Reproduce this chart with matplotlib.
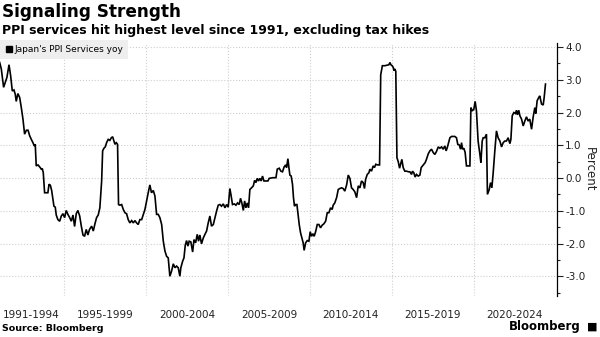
import matplotlib
matplotlib.use("Agg")
import matplotlib.pyplot as plt
from matplotlib.lines import Line2D
import numpy as np

plt.rcParams["font.family"] = ["DejaVu Sans"]
plt.rcParams["axes.unicode_minus"] = False

# Japan PPI services, yoy % as (decimal year, value)
ppi_1991_1996 = [
    (1991.08, 3.53), (1991.18, 3.33), (1991.32, 2.77), (1991.44, 2.95), (1991.52, 3.07),
    (1991.65, 3.46), (1991.75, 3.12), (1991.85, 2.66), (1991.95, 2.69), (1992.03, 2.56),
    (1992.09, 2.34), (1992.19, 2.58), (1992.30, 2.46), (1992.40, 2.15), (1992.50, 1.80),
    (1992.60, 1.34), (1992.71, 1.46), (1992.81, 1.46), (1992.91, 1.29), (1993.01, 1.18),
    (1993.11, 1.08), (1993.19, 0.98), (1993.25, 1.03), (1993.31, 0.37), (1993.42, 0.40),
    (1993.52, 0.34), (1993.62, 0.27), (1993.68, 0.29), (1993.74, 0.16), (1993.82, -0.45),
    (1993.92, -0.45), (1994.02, -0.45), (1994.09, -0.19), (1994.17, -0.22), (1994.25, -0.38),
    (1994.33, -0.65), (1994.39, -0.86), (1994.47, -0.89), (1994.53, -1.13), (1994.63, -1.27),
    (1994.74, -1.32), (1994.84, -1.16), (1994.94, -1.09), (1995.04, -1.21), (1995.14, -0.99),
    (1995.24, -1.11), (1995.35, -1.21), (1995.45, -1.32), (1995.55, -1.13), (1995.65, -1.48),
    (1995.75, -1.09), (1995.85, -0.99), (1995.96, -1.16), (1996.06, -1.47), (1996.16, -1.74),
    (1996.26, -1.78), (1996.36, -1.57), (1996.46, -1.74), (1996.56, -1.57),
]
ppi_1996_2001 = [
    (1996.69, -1.47), (1996.79, -1.62), (1996.89, -1.40), (1996.99, -1.21), (1997.09, -1.13),
    (1997.19, -0.91), (1997.30, -0.09), (1997.36, 0.83), (1997.44, 0.91), (1997.52, 0.95),
    (1997.60, 1.08), (1997.70, 1.18), (1997.80, 1.15), (1997.89, 1.23), (1997.97, 1.26),
    (1998.05, 1.13), (1998.11, 1.03), (1998.19, 1.08), (1998.27, 1.03), (1998.33, -0.81),
    (1998.41, -0.83), (1998.52, -0.81), (1998.62, -0.96), (1998.72, -1.06), (1998.82, -1.09),
    (1998.92, -1.27), (1999.02, -1.37), (1999.13, -1.30), (1999.23, -1.37), (1999.33, -1.30),
    (1999.43, -1.37), (1999.53, -1.42), (1999.63, -1.27), (1999.74, -1.27), (1999.84, -1.11),
    (1999.94, -0.96), (2000.04, -0.70), (2000.14, -0.45), (2000.24, -0.21), (2000.34, -0.45),
    (2000.45, -0.38), (2000.55, -0.55), (2000.65, -1.11), (2000.75, -1.11), (2000.85, -1.21),
    (2000.96, -1.42), (2001.06, -1.93), (2001.16, -2.23), (2001.26, -2.39), (2001.36, -2.44),
    (2001.46, -3.00), (2001.56, -2.85), (2001.67, -2.62), (2001.77, -2.74), (2001.87, -2.69),
    (2001.97, -2.74),
]
ppi_2002_2007 = [
    (2002.07, -3.00), (2002.13, -2.74), (2002.24, -2.54), (2002.32, -2.44), (2002.40, -2.05),
    (2002.48, -1.91), (2002.56, -2.08), (2002.64, -1.93), (2002.74, -1.95), (2002.85, -2.26),
    (2002.93, -1.88), (2003.03, -1.98), (2003.13, -1.72), (2003.21, -1.93), (2003.29, -1.74),
    (2003.39, -2.01), (2003.50, -1.83), (2003.60, -1.72), (2003.70, -1.62), (2003.80, -1.37),
    (2003.90, -1.16), (2004.00, -1.47), (2004.11, -1.42), (2004.21, -1.21), (2004.31, -1.01),
    (2004.41, -0.83), (2004.51, -0.81), (2004.61, -0.86), (2004.72, -0.79), (2004.82, -0.91),
    (2004.92, -0.81), (2005.02, -0.89), (2005.12, -0.32), (2005.20, -0.55), (2005.28, -0.81),
    (2005.39, -0.79), (2005.49, -0.83), (2005.59, -0.76), (2005.69, -0.81), (2005.77, -0.62),
    (2005.85, -0.76), (2005.94, -0.99), (2006.02, -0.70), (2006.10, -0.91), (2006.18, -0.76),
    (2006.26, -0.91), (2006.34, -0.35), (2006.44, -0.30), (2006.55, -0.24), (2006.63, -0.07),
    (2006.71, -0.14), (2006.79, -0.01), (2006.87, -0.09), (2006.95, -0.01), (2007.03, -0.09),
    (2007.11, 0.06), (2007.20, -0.09), (2007.32, -0.09), (2007.44, -0.09), (2007.52, -0.01),
    (2007.75, 0.01),
]
ppi_2007_2012 = [
    (2007.93, 0.01), (2008.01, 0.27), (2008.13, 0.30), (2008.23, 0.21), (2008.33, 0.19),
    (2008.43, 0.34), (2008.52, 0.40), (2008.58, 0.32), (2008.66, 0.59), (2008.72, 0.32),
    (2008.78, 0.09), (2008.86, 0.06), (2008.94, -0.19), (2009.00, -0.60), (2009.06, -0.86),
    (2009.13, -0.81), (2009.21, -0.81), (2009.29, -1.16), (2009.35, -1.42), (2009.43, -1.67),
    (2009.51, -1.83), (2009.59, -1.98), (2009.65, -2.21), (2009.74, -1.98), (2009.84, -1.91),
    (2009.94, -1.93), (2010.02, -1.64), (2010.10, -1.78), (2010.18, -1.70), (2010.26, -1.78),
    (2010.35, -1.64), (2010.45, -1.42), (2010.55, -1.42), (2010.65, -1.52), (2010.75, -1.44),
    (2010.85, -1.40), (2010.96, -1.32), (2011.06, -1.06), (2011.16, -1.06), (2011.26, -0.91),
    (2011.36, -0.96), (2011.42, -0.83), (2011.52, -0.76), (2011.63, -0.60), (2011.73, -0.35),
    (2011.83, -0.32), (2011.93, -0.30), (2012.03, -0.32), (2012.13, -0.40), (2012.24, -0.21),
    (2012.34, 0.09), (2012.44, -0.01), (2012.54, -0.30), (2012.64, -0.35), (2012.74, -0.42),
    (2012.85, -0.60), (2012.95, -0.24),
]
ppi_2013_2018 = [
    (2013.05, -0.30), (2013.15, -0.09), (2013.25, -0.14), (2013.33, -0.32), (2013.40, -0.04),
    (2013.50, 0.11), (2013.60, 0.16), (2013.66, 0.27), (2013.76, 0.21), (2013.86, 0.37),
    (2013.94, 0.32), (2014.02, 0.42), (2014.13, 0.40), (2014.25, 0.40), (2014.32, 3.15),
    (2014.42, 3.43), (2014.57, 3.43), (2014.72, 3.45), (2014.82, 3.46), (2014.88, 3.53),
    (2014.94, 3.46), (2015.02, 3.43), (2015.08, 3.38), (2015.14, 3.28), (2015.18, 3.33),
    (2015.24, 3.26), (2015.31, 0.62), (2015.39, 0.50), (2015.47, 0.30), (2015.53, 0.42),
    (2015.61, 0.57), (2015.69, 0.32), (2015.79, 0.21), (2015.89, 0.21), (2016.02, 0.19),
    (2016.10, 0.19), (2016.20, 0.11), (2016.26, 0.21), (2016.34, 0.16), (2016.42, 0.03),
    (2016.50, 0.11), (2016.61, 0.06), (2016.71, 0.09), (2016.79, 0.32), (2016.87, 0.37),
    (2016.95, 0.42), (2017.03, 0.47), (2017.11, 0.57), (2017.22, 0.74), (2017.32, 0.83),
    (2017.42, 0.88), (2017.52, 0.78), (2017.62, 0.72), (2017.72, 0.81), (2017.83, 0.95),
    (2017.93, 0.91), (2018.03, 0.95), (2018.13, 0.88), (2018.23, 0.98), (2018.31, 0.83),
    (2018.38, 0.93), (2018.46, 1.08),
]
ppi_2018_2024 = [
    (2018.54, 1.23), (2018.64, 1.27), (2018.84, 1.27), (2018.94, 1.23), (2019.02, 1.03),
    (2019.11, 1.01), (2019.19, 0.88), (2019.25, 1.08), (2019.31, 0.88), (2019.39, 0.91),
    (2019.47, 0.78), (2019.55, 0.37), (2019.65, 0.37), (2019.76, 0.37), (2019.82, 2.15),
    (2019.90, 2.05), (2020.00, 2.10), (2020.08, 2.34), (2020.16, 2.05), (2020.26, 1.13),
    (2020.37, 0.72), (2020.43, 0.47), (2020.51, 1.13), (2020.57, 1.23), (2020.67, 1.23),
    (2020.77, 1.34), (2020.83, -0.50), (2020.94, -0.35), (2021.02, -0.14), (2021.10, -0.30),
    (2021.18, 0.16), (2021.28, 0.83), (2021.38, 1.44), (2021.48, 1.23), (2021.59, 1.13),
    (2021.69, 0.95), (2021.79, 1.08), (2021.89, 1.13), (2021.99, 1.13), (2022.09, 1.23),
    (2022.20, 1.05), (2022.26, 1.18), (2022.34, 1.90), (2022.44, 2.00), (2022.54, 1.97),
    (2022.60, 2.07), (2022.66, 1.93), (2022.74, 2.07), (2022.81, 1.90), (2022.91, 1.80),
    (2023.01, 1.59), (2023.11, 1.74), (2023.21, 1.87), (2023.31, 1.74), (2023.41, 1.80),
    (2023.52, 1.49), (2023.62, 1.87), (2023.72, 2.15), (2023.78, 1.97), (2023.86, 2.36),
    (2023.96, 2.46), (2024.02, 2.51), (2024.13, 2.26), (2024.23, 2.23), (2024.29, 2.46),
    (2024.37, 2.87),
]

grid_years = [1995, 2000, 2005, 2010, 2015, 2020]
period_labels = ["1991-1994", "1995-1999", "2000-2004", "2005-2009",
                 "2010-2014", "2015-2019", "2020-2024"]
period_centers = [1993, 1997.5, 2002.5, 2007.5, 2012.5, 2017.5, 2022.5]
y_ticks = [-3, -2, -1, 0, 1, 2, 3, 4]

series = np.array(ppi_1991_1996 + ppi_1996_2001 + ppi_2002_2007
                  + ppi_2007_2012 + ppi_2013_2018 + ppi_2018_2024)
years, values = series[:, 0], series[:, 1]

fig = plt.figure(figsize=(6, 3.37), dpi=100)
ax = fig.add_axes([0.0, 0.122, 0.928, 0.750])

ax.plot(years, values, color="black", linewidth=1.2, solid_joinstyle="miter")

ax.set_xlim(1991.1, 2025.06)
ax.set_ylim(-3.6, 4.12)

# vertical grid at period boundaries, labels centred in each period
ax.set_xticks(grid_years)
ax.set_xticklabels([])
ax.set_xticks(period_centers, minor=True)
ax.set_xticklabels(period_labels, minor=True)
ax.tick_params(axis="x", which="both", length=0, labelsize=7.5, pad=10, colors="#222222")
ax.grid(axis="x", which="major", color="#cfcfcf", linestyle=":", linewidth=0.8)

ax.yaxis.tick_right()
ax.set_yticks(y_ticks)
ax.set_yticklabels([f"{v:.1f}" for v in y_ticks])
ax.set_yticks(np.arange(-3.5, 4.01, 1.0), minor=True)
ax.tick_params(axis="y", which="major", length=4, width=0.8, labelsize=7.5, pad=2, colors="#222222")
ax.tick_params(axis="y", which="minor", length=2.5, width=0.8, colors="#222222")
ax.grid(axis="y", which="major", color="#cfcfcf", linestyle=":", linewidth=0.8)
ax.set_ylabel("Percent", rotation=-90, fontsize=8.5, color="#222222",
              ha="center", va="center")
ax.yaxis.set_label_coords(1.058, 0.5)

for side in ["top", "left", "bottom"]:
    ax.spines[side].set_visible(False)
ax.spines["right"].set_linewidth(0.9)

handle = Line2D([], [], color="black", marker="s", linestyle="none", markersize=4)
leg = ax.legend([handle], ["Japan's PPI Services yoy"], loc="upper left",
                bbox_to_anchor=(0.0, 1.012), borderaxespad=0, fontsize=6.5,
                frameon=True, fancybox=False, handletextpad=0.2,
                handlelength=0.8, borderpad=0.55)
leg.get_frame().set_facecolor("#eeeeee")
leg.get_frame().set_edgecolor("none")
leg.get_frame().set_alpha(1)

fig.text(0.004, 0.992, "Signaling Strength", fontsize=12.2, fontweight="bold",
         va="top", ha="left")
fig.text(0.004, 0.93, "PPI services hit highest level since 1991, excluding tax hikes",
         fontsize=9, fontweight="bold", va="top", ha="left")
fig.text(0.004, 0.012, "Source: Bloomberg", fontsize=6.8, fontweight="bold",
         va="bottom", ha="left")
fig.text(0.968, 0.012, "Bloomberg", fontsize=8.5, fontweight="bold",
         va="bottom", ha="right")
fig.text(0.978, 0.016, "\u25a0", fontsize=8, va="bottom", ha="left")

fig.savefig("out.png", dpi=100)
